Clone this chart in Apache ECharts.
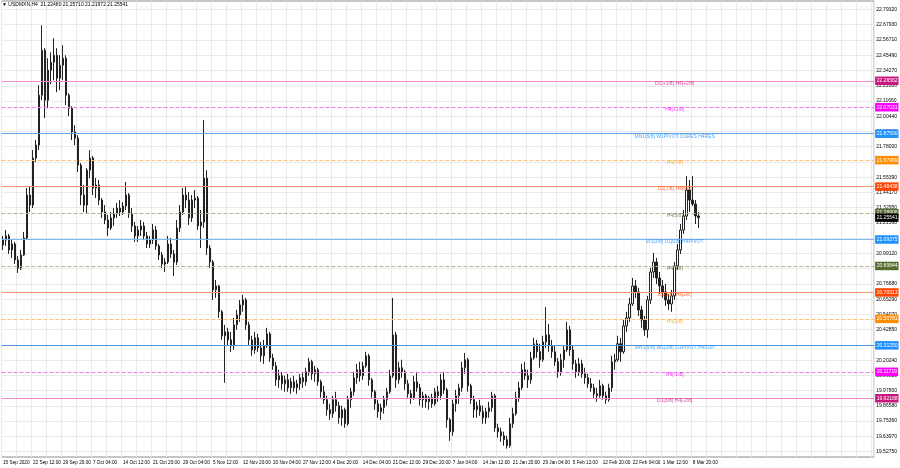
<!DOCTYPE html>
<html><head><meta charset="utf-8">
<script src="https://cdn.jsdelivr.net/npm/echarts@6/dist/echarts.min.js"></script>
<style>html,body{margin:0;padding:0;background:#fff}#c{width:900px;height:468px}</style>
</head><body><div id="c"></div>
<script>
// ---------- data ----------
const symbolName = 'USDMXN,H4';
const lastBar = ['21.22480', '21.25710', '21.21972', '21.25541'];
const dateLabels = ['15 Sep 2020','22 Sep 12:00','29 Sep 20:00','7 Oct 04:00','14 Oct 12:00','21 Oct 20:00','29 Oct 04:00','5 Nov 12:00','12 Nov 20:00','20 Nov 04:00','27 Nov 12:00','4 Dec 20:00','14 Dec 04:00','21 Dec 12:00','29 Dec 20:00','7 Jan 04:00','14 Jan 12:00','21 Jan 20:00','29 Jan 04:00','5 Feb 12:00','12 Feb 20:00','22 Feb 04:00','1 Mar 12:00','8 Mar 20:00'];
const priceTicks = [22.79320,22.67930,22.56710,22.45490,22.34270,22.22880,22.11660,22.00440,21.89220,21.78000,21.66610,21.55390,21.44170,21.32950,21.21560,21.10340,20.99120,20.87900,20.76680,20.65290,20.54070,20.42850,20.31630,20.20240,20.09020,19.97800,19.86580,19.75360,19.63970,19.52750];
const levelValues = [22.26562,22.07031,21.87500,21.67969,21.48438,21.28906,21.09375,20.89844,20.70313,20.50781,20.31250,20.11719,19.92188];
const levelNames = ['D1[+1/8] H4[+2/8]','H4[+1/8]','MN1[6/8] W1PIVOT D1RES H4RES','H4[7/8]','D1[7/8] H4[6/8]','H4[5/8]','W1[3/8] D1[6/8] H4PIVOT','H4[3/8]','D1[5/8] H4[2/8]','H4[1/8]','MN1[5/8] W1[2/8] D1PIVOT H4SUP','H4[-1/8]','D1[3/8] H4[-2/8]'];
const currentPrice = 21.25541;

const opens = [21.053,21.090,21.120,21.017,21.061,20.943,20.884,20.980,21.105,21.422,
21.348,21.695,21.791,22.159,22.491,22.122,22.344,22.403,22.454,22.285,
22.380,22.432,22.159,22.063,21.887,21.842,21.643,21.422,21.348,21.606,
21.695,21.474,21.496,21.385,21.297,21.238,21.179,21.253,21.282,21.326,
21.297,21.341,21.422,21.282,21.194,21.120,21.164,21.194,21.120,21.061,
21.090,21.164,21.046,20.980,20.913,20.928,21.061,20.987,20.928,21.179,
21.297,21.422,21.385,21.253,21.385,21.400,21.194,21.223,21.547,21.031,
20.928,20.722,20.751,20.560,20.383,20.412,20.353,20.309,20.464,20.537,
20.611,20.648,20.464,20.353,20.279,20.368,20.294,20.235,20.309,20.397,
20.220,20.161,20.058,20.088,20.029,20.058,19.999,20.044,19.999,20.029,
20.073,20.044,20.117,20.191,20.102,20.132,20.044,19.970,19.911,19.837,
19.808,19.911,19.867,19.778,19.837,19.734,19.911,19.970,20.073,20.132,
20.088,20.161,20.235,20.058,19.970,19.881,19.823,19.852,19.911,19.970,
20.088,20.390,20.058,20.147,20.117,20.029,19.955,19.926,20.044,19.999,
19.911,19.940,19.896,19.926,19.881,19.970,19.940,20.058,19.984,19.763,
19.675,19.881,19.940,19.999,20.147,20.206,20.014,19.911,19.837,19.867,
19.823,19.778,19.823,19.852,19.940,19.704,19.675,19.645,19.616,19.572,
19.734,19.808,19.926,19.999,20.132,20.088,20.058,20.220,20.324,20.265,
20.206,20.338,20.390,20.309,20.265,20.191,20.117,20.206,20.279,20.427,
20.279,20.176,20.117,20.176,20.102,20.073,20.029,19.999,19.955,19.940,
20.014,19.940,19.911,19.999,20.191,20.206,20.324,20.265,20.456,20.515,
20.618,20.751,20.707,20.574,20.500,20.427,20.648,20.854,20.928,20.810,
20.751,20.707,20.648,20.618,20.678,20.899,21.017,21.164,21.267,21.459,
21.385,21.356,21.267];
const closes = [21.090,21.120,21.017,21.061,20.943,20.884,20.980,21.105,21.422,21.348,
21.695,21.791,22.159,22.491,22.122,22.344,22.403,22.454,22.285,22.380,
22.432,22.159,22.063,21.887,21.842,21.643,21.422,21.348,21.606,21.695,
21.474,21.496,21.385,21.297,21.238,21.179,21.253,21.282,21.326,21.297,
21.341,21.422,21.282,21.194,21.120,21.164,21.194,21.120,21.061,21.090,
21.164,21.046,20.980,20.913,20.928,21.061,20.987,20.928,21.179,21.297,
21.422,21.385,21.253,21.385,21.400,21.194,21.223,21.547,21.031,20.928,
20.722,20.751,20.560,20.383,20.412,20.353,20.309,20.464,20.537,20.611,
20.648,20.464,20.353,20.279,20.368,20.294,20.235,20.309,20.397,20.220,
20.161,20.058,20.088,20.029,20.058,19.999,20.044,19.999,20.029,20.073,
20.044,20.117,20.191,20.102,20.132,20.044,19.970,19.911,19.837,19.808,
19.911,19.867,19.778,19.837,19.734,19.911,19.970,20.073,20.132,20.088,
20.161,20.235,20.058,19.970,19.881,19.823,19.852,19.911,19.970,20.088,
20.390,20.058,20.147,20.117,20.029,19.955,19.926,20.044,19.999,19.911,
19.940,19.896,19.926,19.881,19.970,19.940,20.058,19.984,19.763,19.675,
19.881,19.940,19.999,20.147,20.206,20.014,19.911,19.837,19.867,19.823,
19.778,19.823,19.852,19.940,19.704,19.675,19.645,19.616,19.572,19.734,
19.808,19.926,19.999,20.132,20.088,20.058,20.220,20.324,20.265,20.206,
20.338,20.390,20.309,20.265,20.191,20.117,20.206,20.279,20.427,20.279,
20.176,20.117,20.176,20.102,20.073,20.029,19.999,19.955,19.940,20.014,
19.940,19.911,19.999,20.191,20.206,20.324,20.265,20.456,20.515,20.618,
20.751,20.707,20.574,20.500,20.427,20.648,20.854,20.928,20.810,20.751,
20.707,20.648,20.618,20.678,20.899,21.017,21.164,21.267,21.459,21.385,
21.356,21.267,21.255];
const highs = [21.120,21.164,21.135,21.090,21.076,20.972,21.017,21.149,21.474,21.488,
21.754,21.828,22.233,22.675,22.506,22.432,22.476,22.580,22.506,22.454,
22.528,22.454,22.174,22.078,21.938,21.864,21.658,21.496,21.621,21.754,
21.710,21.547,21.533,21.400,21.348,21.275,21.297,21.326,21.363,21.385,
21.370,21.518,21.437,21.326,21.223,21.194,21.238,21.223,21.149,21.120,
21.208,21.194,21.061,21.002,20.958,21.120,21.105,21.017,21.238,21.348,
21.474,21.488,21.444,21.422,21.459,21.415,21.311,21.975,21.606,21.053,
20.943,20.795,20.759,20.574,20.464,20.442,20.412,20.515,20.574,20.648,
20.685,20.663,20.486,20.383,20.412,20.397,20.338,20.353,20.442,20.412,
20.250,20.191,20.132,20.117,20.088,20.102,20.073,20.088,20.058,20.102,
20.117,20.147,20.220,20.206,20.161,20.147,20.058,20.014,19.940,19.881,
19.940,19.970,19.896,19.867,19.852,19.940,19.999,20.117,20.176,20.191,
20.191,20.265,20.250,20.073,19.984,19.911,19.881,19.940,19.999,20.132,
20.663,20.412,20.191,20.206,20.132,20.058,19.984,20.088,20.117,20.029,
19.970,19.955,19.940,19.955,19.999,20.014,20.102,20.117,19.999,19.778,
19.911,19.984,20.029,20.191,20.257,20.220,20.029,19.940,19.896,19.911,
19.867,19.852,19.896,19.970,19.955,19.734,19.704,19.675,19.645,19.778,
19.852,19.970,20.044,20.176,20.191,20.132,20.265,20.368,20.353,20.324,
20.383,20.596,20.471,20.353,20.309,20.220,20.250,20.309,20.486,20.456,
20.309,20.206,20.220,20.206,20.147,20.102,20.073,20.029,19.999,20.058,
20.029,19.970,20.029,20.235,20.250,20.383,20.368,20.500,20.560,20.663,
20.810,20.795,20.737,20.604,20.530,20.678,20.884,20.995,20.958,20.854,
20.795,20.766,20.692,20.722,20.928,21.061,21.208,21.311,21.562,21.533,
21.562,21.385,21.297];
const lows = [21.017,21.046,20.987,20.958,20.913,20.847,20.869,20.972,21.090,21.297,
21.326,21.665,21.754,22.122,21.990,22.063,22.240,22.270,22.181,22.196,
22.270,22.086,22.004,21.828,21.791,21.592,21.348,21.297,21.282,21.547,
21.422,21.400,21.348,21.253,21.208,21.120,21.164,21.194,21.253,21.267,
21.275,21.311,21.253,21.149,21.076,21.076,21.120,21.090,21.031,21.031,
21.061,21.017,20.943,20.884,20.854,20.913,20.958,20.825,20.906,21.149,
21.275,21.326,21.201,21.223,21.326,21.164,21.031,21.179,20.980,20.884,
20.648,20.663,20.515,20.353,20.036,20.309,20.265,20.279,20.427,20.486,
20.560,20.427,20.316,20.235,20.250,20.265,20.191,20.176,20.294,20.191,
20.132,20.014,19.999,19.984,19.970,19.970,19.955,19.970,19.955,19.984,
19.999,20.014,20.088,20.058,20.044,20.014,19.926,19.881,19.793,19.763,
19.778,19.823,19.734,19.719,19.704,19.719,19.852,19.940,20.029,20.044,
20.058,20.147,20.014,19.926,19.837,19.778,19.763,19.808,19.867,19.955,
20.073,19.999,20.029,20.073,19.984,19.926,19.881,19.911,19.970,19.867,
19.852,19.852,19.837,19.852,19.867,19.896,19.911,19.955,19.704,19.608,
19.645,19.823,19.881,19.970,20.102,19.970,19.881,19.778,19.778,19.793,
19.734,19.734,19.778,19.823,19.675,19.631,19.601,19.572,19.550,19.557,
19.704,19.793,19.896,19.984,20.058,19.999,20.029,20.206,20.220,20.147,
20.191,20.294,20.265,20.220,20.161,20.073,20.088,20.147,20.265,20.235,
20.132,20.073,20.088,20.073,20.029,19.999,19.970,19.926,19.896,19.926,
19.911,19.881,19.896,19.970,20.132,20.191,20.191,20.250,20.412,20.486,
20.604,20.663,20.530,20.442,20.383,20.368,20.618,20.810,20.766,20.692,
20.663,20.604,20.574,20.560,20.648,20.869,20.987,21.135,21.238,21.297,
21.341,21.208,21.179];

// ---------- styles / layout ----------
const FONT = '"Liberation Sans", Arial, sans-serif';
const FS = 5;
const FS_DATE = 4.7;
const N_SLOTS = 291;
const LABEL_SLOT = 224;
const Y_MIN = 19.4883, Y_MAX = 22.8545;
const levelStyles = [
  {line:'#f08cc6', type:'solid',  tag:'#c8177f'},
  {line:'#f477f4', type:'dashed', tag:'#ff00ff'},
  {line:'#5ea6f0', type:'solid',  tag:'#1e90ff'},
  {line:'#ffc078', type:'dashed', tag:'#ff8c00'},
  {line:'#ff9474', type:'solid',  tag:'#ff4500'},
  {line:'#b8b095', type:'dashed', tag:'#556b2f'},
  {line:'#7ab8f4', type:'solid',  tag:'#1e90ff'},
  {line:'#b8b095', type:'dashed', tag:'#556b2f'},
  {line:'#ff9474', type:'solid',  tag:'#ff4500'},
  {line:'#ffc078', type:'dashed', tag:'#ff8c00'},
  {line:'#4a94e2', type:'solid',  tag:'#1e90ff'},
  {line:'#f477f4', type:'dashed', tag:'#ff00ff'},
  {line:'#f08cc6', type:'solid',  tag:'#c8177f'}
];
const textColors = ['#c8177f','#ff00ff','#1e90ff','#ff9a20','#ff4500','#556b2f','#1e90ff','#556b2f','#ff4500','#ff9a20','#1e90ff','#ff00ff','#c8177f'];

const slots = Array.from({length: N_SLOTS}, (_, i) => i);
const candles = opens.map((o, i) => [o, closes[i], lows[i], highs[i]]);

const tagLabel = (bg) => ({
  show: true, position: 'end', distance: 1,
  formatter: p => Number(p.value).toFixed(5),
  backgroundColor: bg, color: '#fff', padding: [2, 1, 1.5, 1.5],
  fontSize: FS, fontFamily: FONT
});

const markData = levelValues.map((v, i) => ({
  yAxis: v,
  lineStyle: {color: levelStyles[i].line, type: levelStyles[i].type, width: 1, opacity: 1},
  label: tagLabel(levelStyles[i].tag)
}));
markData.push({
  yAxis: currentPrice,
  lineStyle: {color: 'rgba(0,0,0,0)', width: 1},
  label: tagLabel('#000000')
});

const chart = echarts.init(document.getElementById('c'), null, {renderer: 'canvas'});
chart.setOption({
  animation: false,
  backgroundColor: '#ffffff',
  title: {
    text: '\u25BC ' + symbolName + '  ' + lastBar.join(' '),
    left: 2, top: 2, padding: 0,
    textStyle: {fontSize: FS, fontWeight: 'normal', color: '#000', fontFamily: FONT}
  },
  grid: {left: 1, right: 25, top: 1, bottom: 11, show: true, borderColor: '#8c8c8c', borderWidth: 1, backgroundColor: 'transparent'},
  xAxis: {
    type: 'category', data: slots, boundaryGap: true,
    axisLine: {show: false}, axisTick: {show: false},
    axisLabel: {
      interval: (idx) => idx % 10 === 0 && idx / 10 < dateLabels.length,
      formatter: (val, idx) => dateLabels[idx / 10] || '',
      showMinLabel: true, hideOverlap: false,
      align: 'left', margin: 3, fontSize: FS_DATE, color: '#000', fontFamily: FONT
    },
    splitLine: {show: true, interval: 4, lineStyle: {color: '#eaeaea', width: 1}}
  },
  yAxis: {
    type: 'value', position: 'right', min: Y_MIN, max: Y_MAX, scale: true,
    axisLine: {show: false},
    axisTick: {show: false, customValues: priceTicks},
    axisLabel: {customValues: priceTicks, formatter: v => v.toFixed(5), margin: 2, fontSize: FS, color: '#000', fontFamily: FONT},
    splitLine: {show: true, lineStyle: {color: '#eaeaea', width: 1}}
  },
  series: [
    {
      type: 'candlestick', data: candles, barWidth: 2,
      itemStyle: {color: '#ffffff', color0: '#222222', borderColor: '#222222', borderColor0: '#222222', borderWidth: 1},
      markLine: {symbol: ['none', 'none'], silent: true, animation: false, precision: 5, data: markData}
    },
    {
      type: 'scatter', symbolSize: 0, silent: true, z: 5,
      data: levelValues.map((v, i) => ({value: [LABEL_SLOT, v], label: {color: textColors[i]}})),
      label: {show: true, position: 'bottom', distance: 0, fontSize: FS, fontFamily: FONT,
        formatter: p => levelNames[p.dataIndex]}
    }
  ]
});
</script>
</body></html>
